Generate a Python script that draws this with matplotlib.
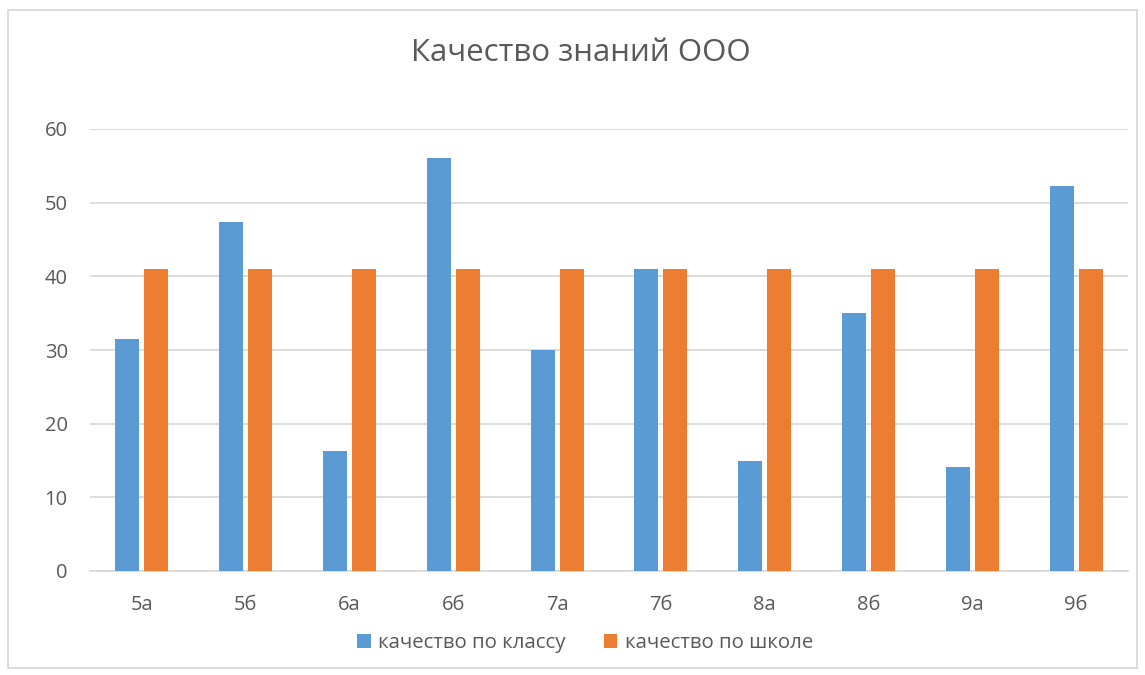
import numpy as np
import matplotlib.pyplot as plt
from matplotlib.patches import Rectangle

# data
classes = ["5а", "5б", "6а", "6б", "7а", "7б", "8а", "8б", "9а", "9б"]
class_quality = [31.5, 47.4, 16.3, 56.1, 30.0, 41.0, 14.9, 35.0, 14.1, 52.2]
school_quality = [41.0, 41.0, 41.0, 41.0, 41.0, 41.0, 41.0, 41.0, 41.0, 41.0]
yticks = [0, 10, 20, 30, 40, 50, 60]

BLUE = "#5B9BD5"
ORANGE = "#ED7D31"
GRID = "#D9D9D9"
TEXT = "#595959"

plt.rcParams['font.family'] = ['Open Sans', 'DejaVu Sans']

fig = plt.figure(figsize=(11.45, 6.75), dpi=100)
ax = fig.add_axes([90 / 1145, 1 - 571 / 675, 1038 / 1145, 442 / 675])

x = np.arange(len(classes))
w = 0.23
ax.bar(x - 0.14, class_quality, w, color=BLUE, label="качество по классу", zorder=3)
ax.bar(x + 0.14, school_quality, w, color=ORANGE, label="качество по школе", zorder=3)

ax.set_xlim(-0.5, len(classes) - 0.5)
ax.set_ylim(0, 60)
ax.set_yticks(yticks)
ax.set_xticks(x)
ax.set_xticklabels(classes)
ax.grid(axis='y', color=GRID, linewidth=1.3, zorder=0)
ax.tick_params(axis='both', length=0, labelsize=14.5, colors=TEXT)
ax.tick_params(axis='x', pad=17)
ax.tick_params(axis='y', pad=16)
for s in ['top', 'right', 'left']:
    ax.spines[s].set_visible(False)
ax.spines['bottom'].set_color(GRID)
ax.spines['bottom'].set_linewidth(1.3)

fig.text(0.507, 1 - 53 / 675, "Качество знаний ООО", ha='center', va='center',
         fontsize=22.5, color=TEXT)

fig.legend(loc='center', bbox_to_anchor=(0.511, 1 - 643 / 675), ncol=2, frameon=False,
           fontsize=14.7, labelcolor=TEXT, handlelength=0.65, handleheight=0.65,
           handletextpad=0.35, columnspacing=1.9)

# outer chart border
fig.patches.append(Rectangle((8 / 1145, 1 - 668 / 675), 1129 / 1145, 658 / 675,
                             transform=fig.transFigure, fill=False,
                             edgecolor=GRID, linewidth=1.3))

fig.savefig("out.png", dpi=100)
